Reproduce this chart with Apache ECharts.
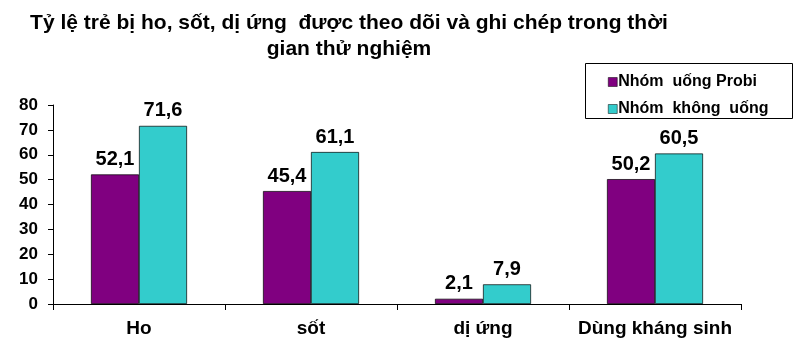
<!DOCTYPE html>
<html><head><meta charset="utf-8">
<script src="https://cdn.jsdelivr.net/npm/echarts@6/dist/echarts.min.js"></script>
<style>html,body{margin:0;padding:0;background:#fff}#c{width:801px;height:363px}</style>
</head><body><div id="c"></div>
<script>
const categories = ['Ho', 'sốt', 'dị ứng', 'Dùng kháng sinh'];
const seriesNames = ['Nhóm  uống Probi', 'Nhóm  không  uống'];
const probi = [52.1, 45.4, 2.1, 50.2];
const khong = [71.6, 61.1, 7.9, 60.5];
const yTicks = [0, 80, 10];
const titleLines = ['Tỷ lệ trẻ bị ho, sốt, dị ứng  được theo dõi và ghi chép trong thời', 'gian thử nghiệm'];

const chart = echarts.init(document.getElementById('c'));
const F = 'Arial, "Liberation Sans", sans-serif';
const lbl = {show: true, position: 'top', distance: 5, color: '#000', fontFamily: F, fontWeight: 'bold', fontSize: 20,
  formatter: p => String(p.value).replace('.', ',')};
chart.setOption({
  animation: false,
  backgroundColor: '#fff',
  graphic: [
    {type: 'text', x: 349, y: 10, style: {text: titleLines.join('\n'), textAlign: 'center', font: 'bold 21px ' + F, lineHeight: 26, fill: '#000'}},
    {type: 'rect', shape: {x: 585.5, y: 63.5, width: 207, height: 55}, style: {fill: '#fff', stroke: '#000', lineWidth: 1}, z: 0}
  ],
  legend: {
    orient: 'vertical', left: 603, top: 69, itemWidth: 9, itemHeight: 9, itemGap: 11,
    icon: 'rect', z: 10,
    textStyle: {fontFamily: F, fontWeight: 'bold', fontSize: 16, color: '#000', padding: [0, 0, 0, -4]},
    data: seriesNames.map(n => ({name: n, itemStyle: {borderColor: '#000', borderWidth: 0.5}}))
  },
  grid: {left: 53, top: 105, width: 688, height: 199},
  xAxis: {
    type: 'category', data: categories,
    axisLine: {lineStyle: {color: '#000', width: 1}},
    axisTick: {show: true, length: 6, lineStyle: {color: '#000'}, alignWithLabel: false},
    axisLabel: {interval: 0, color: '#000', fontFamily: F, fontWeight: 'bold', fontSize: 19, margin: 15}
  },
  yAxis: {
    type: 'value', min: yTicks[0], max: yTicks[1], interval: yTicks[2],
    axisLine: {show: true, lineStyle: {color: '#000', width: 1}},
    axisTick: {show: true, length: 5, lineStyle: {color: '#000'}},
    splitLine: {show: false},
    axisLabel: {color: '#000', fontFamily: F, fontWeight: 'bold', fontSize: 17, margin: 15}
  },
  series: [
    {name: seriesNames[0], type: 'bar', data: probi, barWidth: 48, barGap: '0%',
     itemStyle: {color: '#800080', borderColor: '#000', borderWidth: 0.7}, label: lbl},
    {name: seriesNames[1], type: 'bar', data: khong, barWidth: 48,
     itemStyle: {color: '#33CCCC', borderColor: '#000', borderWidth: 0.7}, label: lbl}
  ]
});
</script></body></html>
